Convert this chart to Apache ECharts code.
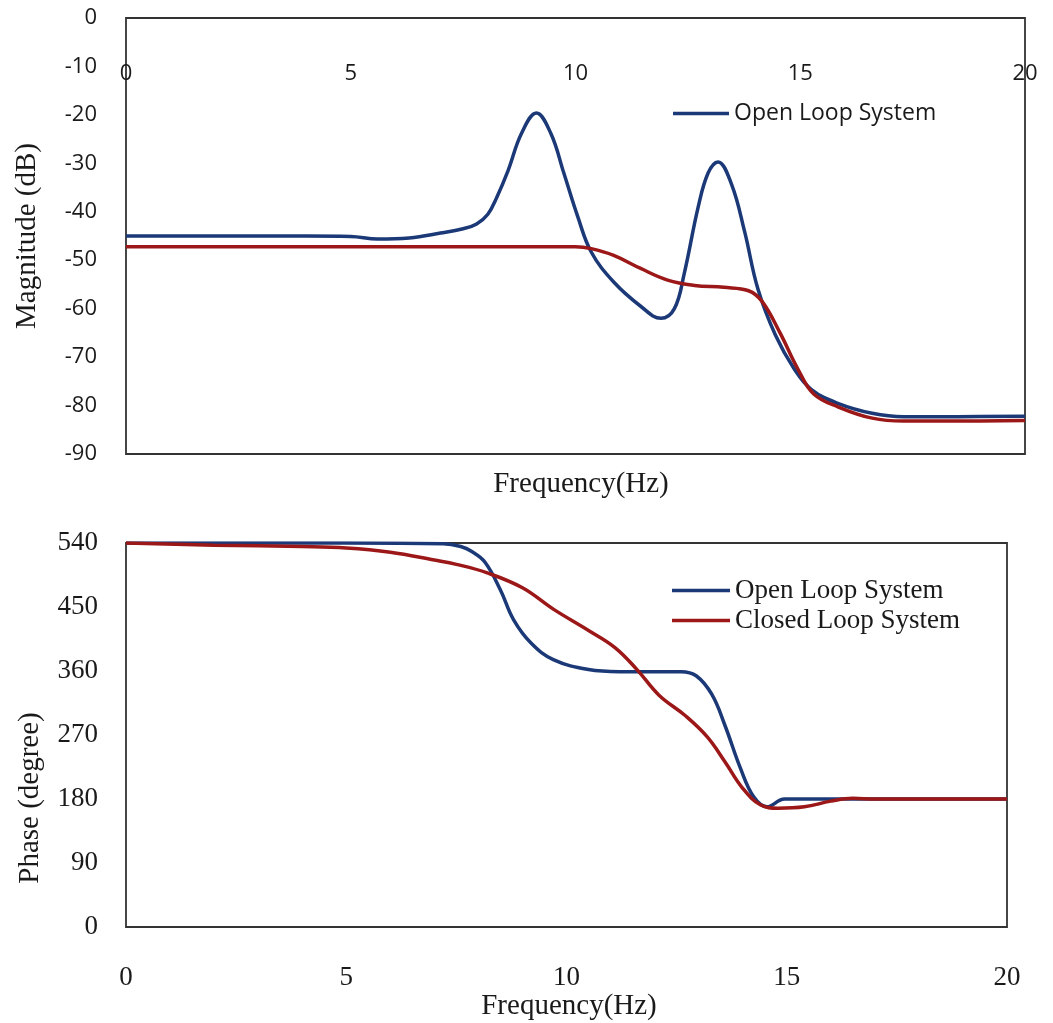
<!DOCTYPE html>
<html><head><meta charset="utf-8">
<script src="https://cdn.jsdelivr.net/npm/echarts@6/dist/echarts.min.js"></script>
<style>html,body{margin:0;padding:0;background:#fff}#c{width:1053px;height:1023px}</style>
</head><body><div id="c"></div><script>
// Frequency ticks
const freqTicks = [0, 5, 10, 15, 20];
// Magnitude (dB) - open loop
const magOpenFreq = [0, 2, 4, 5, 5.6, 6.3, 7.0, 7.5, 7.8, 8.05, 8.25, 8.5, 8.8, 9.13, 9.45, 9.74, 10.05, 10.35, 10.85, 11.45, 11.9, 12.2, 12.42, 12.73, 12.95, 13.17, 13.47, 13.76, 14.06, 14.45, 14.87, 15.25, 15.85, 16.6, 17.3, 18.5, 20];
const magOpen = [-45.0, -45.0, -45.0, -45.1, -45.6, -45.4, -44.4, -43.5, -42.5, -40.5, -37, -31.5, -23.8, -19.6, -23.8, -32, -41, -48.3, -54.5, -59.5, -62, -60, -52.7, -39, -32, -29.7, -34.3, -44, -56, -65.5, -72.5, -76.7, -79.6, -81.6, -82.3, -82.3, -82.2];
// Magnitude (dB) - closed loop
const magClosedFreq = [0, 5, 8, 10, 10.35, 10.85, 11.45, 12.05, 12.65, 13.3, 13.85, 14.15, 14.55, 14.95, 15.3, 15.85, 16.6, 17.3, 18.5, 20];
const magClosed = [-47.2, -47.2, -47.2, -47.2, -47.6, -49, -51.7, -54.1, -55.2, -55.6, -56.3, -58.5, -65, -72.5, -77.6, -80.3, -82.6, -83.2, -83.2, -83.1];
// Phase (degree) - open loop
const phOpenFreq = [0, 5, 7.2, 7.6, 7.85, 8.15, 8.5, 8.8, 9.2, 9.7, 10.5, 11.2, 12.6, 12.95, 13.3, 13.6, 13.95, 14.25, 14.55, 14.95, 15.7, 20];
const phOpen = [540, 540, 539, 535, 528, 513, 474, 432, 399, 376, 362, 359, 359, 353, 327, 283, 223, 183, 169, 180, 180, 180];
// Phase (degree) - closed loop
const phClosedFreq = [0, 2, 4, 5, 6, 7, 7.5, 8.2, 9, 9.7, 10.5, 11.1, 11.6, 12.1, 12.7, 13.2, 13.6, 14.0, 14.4, 14.8, 15.4, 16.0, 16.5, 17, 20];
const phClosed = [540, 537, 535, 533, 527, 516, 510, 498, 477, 447, 417, 393, 362, 326, 297, 267, 232, 195, 172, 167, 169, 177, 181, 180, 180];
// Y tick ranges
const magTicks = {min: -90, max: 0, step: 10};
const phTicks = {min: 0, max: 540, step: 90};

const BLUE = '#1b3877', RED = '#9c1717';
const zip = (xs, ys) => xs.map((x, i) => [x, ys[i]]);
const SERIF = '"Liberation Serif", "Times New Roman", serif';
const SANS = '"Open Sans", sans-serif';

const hiddenAxis = {axisLine: {show: false}, axisTick: {show: false}, splitLine: {show: false}};
const chart = echarts.init(document.getElementById('c'));
chart.setOption({
  animation: false,
  backgroundColor: '#fff',
  grid: [
    {left: 126, top: 18, width: 899, height: 436, show: true, borderColor: '#333', borderWidth: 1.8},
    {left: 126, top: 543, width: 881, height: 384, show: true, borderColor: '#333', borderWidth: 1.8}
  ],
  xAxis: [
    Object.assign({gridIndex: 0, type: 'value', min: freqTicks[0], max: freqTicks[freqTicks.length - 1], interval: freqTicks[1] - freqTicks[0], position: 'bottom', offset: -391,
      axisLabel: {margin: 0, fontFamily: SANS, fontSize: 22, color: '#1a1a1a'}}, hiddenAxis),
    Object.assign({gridIndex: 1, type: 'value', min: freqTicks[0], max: freqTicks[freqTicks.length - 1], interval: freqTicks[1] - freqTicks[0],
      axisLabel: {margin: 37, fontFamily: SERIF, fontSize: 27, color: '#1a1a1a'}}, hiddenAxis)
  ],
  yAxis: [
    Object.assign({gridIndex: 0, type: 'value', min: magTicks.min, max: magTicks.max, interval: magTicks.step,
      axisLabel: {margin: 29, fontFamily: SANS, fontSize: 22, color: '#1a1a1a'}}, hiddenAxis),
    Object.assign({gridIndex: 1, type: 'value', min: phTicks.min, max: phTicks.max, interval: phTicks.step,
      axisLabel: {margin: 28, fontFamily: SERIF, fontSize: 27, color: '#1a1a1a'}}, hiddenAxis)
  ],
  legend: [
    {data: ['Open Loop System'], left: 668, top: 97, icon: 'rect', itemWidth: 56, itemHeight: 3.5,
      textStyle: {fontFamily: SANS, fontSize: 23, color: '#1a1a1a'}},
    {data: ['Open Loop System', 'Closed Loop System'], orient: 'vertical', left: 667, top: 572, itemGap: 3, icon: 'rect', itemWidth: 58, itemHeight: 3.5,
      textStyle: {fontFamily: SERIF, fontSize: 27, color: '#1a1a1a'}}
  ],
  graphic: [
    {type: 'text', x: 27, y: 236, rotation: Math.PI / 2, style: {text: 'Magnitude (dB)', font: '29px ' + SERIF, fill: '#1a1a1a', textAlign: 'center', textVerticalAlign: 'middle'}},
    {type: 'text', x: 581, y: 484, style: {text: 'Frequency(Hz)', font: '29px ' + SERIF, fill: '#1a1a1a', textAlign: 'center', textVerticalAlign: 'middle'}},
    {type: 'text', x: 30, y: 798, rotation: Math.PI / 2, style: {text: 'Phase (degree)', font: '29px ' + SERIF, fill: '#1a1a1a', textAlign: 'center', textVerticalAlign: 'middle'}},
    {type: 'text', x: 569, y: 1006, style: {text: 'Frequency(Hz)', font: '29px ' + SERIF, fill: '#1a1a1a', textAlign: 'center', textVerticalAlign: 'middle'}}
  ],
  series: [
    {name: 'Open Loop System', type: 'line', xAxisIndex: 0, yAxisIndex: 0, data: zip(magOpenFreq, magOpen), smooth: 0.4, symbol: 'none', lineStyle: {color: BLUE, width: 3.5}, itemStyle: {color: BLUE}},
    {name: 'Closed Loop System', type: 'line', xAxisIndex: 0, yAxisIndex: 0, data: zip(magClosedFreq, magClosed), smooth: 0.4, symbol: 'none', lineStyle: {color: RED, width: 3.5}, itemStyle: {color: RED}},
    {name: 'Open Loop System', type: 'line', xAxisIndex: 1, yAxisIndex: 1, data: zip(phOpenFreq, phOpen), smooth: 0.4, symbol: 'none', lineStyle: {color: BLUE, width: 3.5}, itemStyle: {color: BLUE}},
    {name: 'Closed Loop System', type: 'line', xAxisIndex: 1, yAxisIndex: 1, data: zip(phClosedFreq, phClosed), smooth: 0.4, symbol: 'none', lineStyle: {color: RED, width: 3.5}, itemStyle: {color: RED}}
  ]
});
</script></body></html>
